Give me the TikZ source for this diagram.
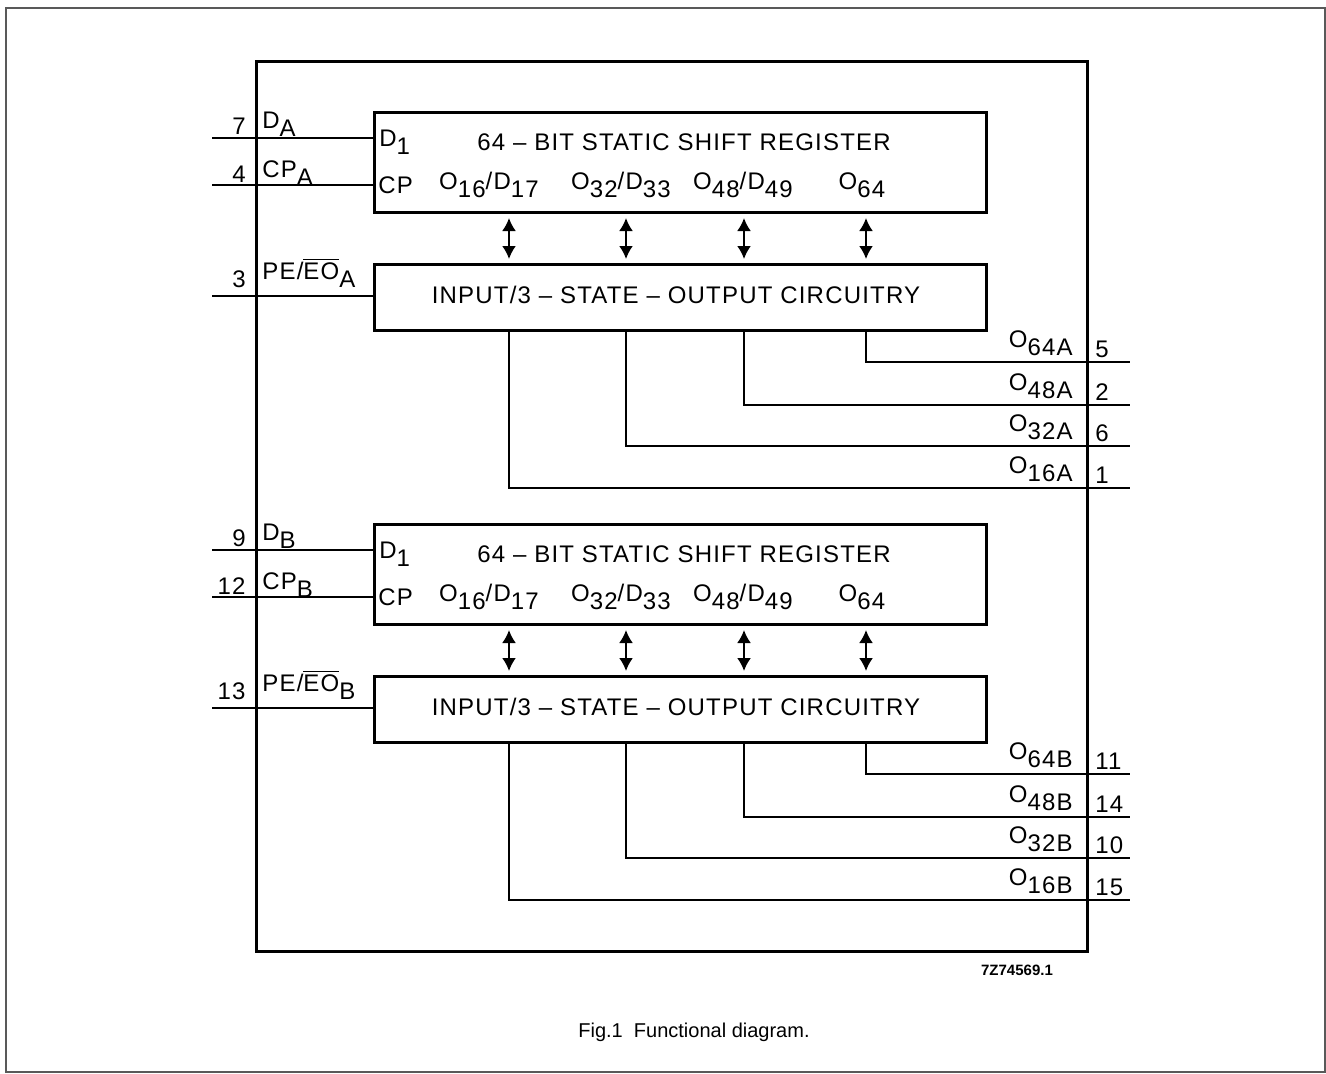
\documentclass[tikz,border=0pt]{standalone}
\usepackage{fontspec}
\setmainfont{Liberation Sans}
\newfontfamily\chipfont[LetterSpace=5]{Liberation Sans}
\usetikzlibrary{arrows.meta}
\newcommand{\cf}{\chipfont\fontsize{12pt}{14pt}\selectfont}
\newcommand{\lo}[1]{\raisebox{-0.7ex}{#1}}

\begin{document}
\begin{tikzpicture}[
    x = 0.5pt, y = -0.5pt,
    frm/.style = {line width = 0.6pt, draw = black!65},
    d0/.style = {line width = 1.5pt},
    d1/.style = {line width = 1pt},
    blk/.style = {draw, line width = 1.5pt, anchor = north west, minimum width = 306pt, inner sep = 0pt},
    io/.style = {line width = 1pt, {Latex[length=6.5pt,width=7pt]}-{Latex[length=6.5pt,width=7pt]}, shorten < = 2pt, shorten > = 2pt},
    txt/.style = {font = \cf, inner sep = 0pt, anchor = base},
    pin/.style = {font = \cf, inner sep = 0pt, anchor = base east},
    sig/.style = {font = \cf, inner sep = 0pt, anchor = base west},
]
\useasboundingbox (0,0) rectangle (1326,1073);
\draw[frm] (6,8) rectangle (1325,1072);
\draw[d0] (256,61) rectangle (1087,951);

\foreach \s/\dy/\pd/\pc/\pe/\pa/\pb/\pcc/\pdd in {A/0/7/4/3/5/2/6/1, B/412/9/12/13/11/14/10/15} {
\begin{scope}[shift = {(0,\dy)}]
\node[blk, minimum height = 50pt] (reg\s) at (373,111) {};
\node[blk, minimum height = 33pt] (cir\s) at (373,263) {};
\node[txt] (tit\s) at (684,150) {64 – BIT STATIC SHIFT REGISTER};
\node[txt] (inp\s) at (676,303) {INPUT/3 – STATE – OUTPUT CIRCUITRY};
\node[sig] (d1\s) at (379,146) {D\lo{1}};
\node[sig] (cp\s) at (378,193) {CP};
\node[txt] (q1\s) at (489,189) {O\lo{16}/D\lo{17}};
\node[txt] (q2\s) at (621,189) {O\lo{32}/D\lo{33}};
\node[txt] (q3\s) at (743,189) {O\lo{48}/D\lo{49}};
\node[txt] (q4\s) at (862,189) {O\lo{64}};

% inputs
\coordinate (ind\s) at (212,138);
\coordinate (inc\s) at (212,185);
\coordinate (ine\s) at (212,296);
\draw[d1] (ind\s) -- (ind\s -| reg\s.west);
\draw[d1] (inc\s) -- (inc\s -| reg\s.west);
\draw[d1] (ine\s) -- (ine\s -| cir\s.west);
\node[pin] (n1\s) at (246,134) {\pd};
\node[sig] (s1\s) at (262,128) {D\lo{\s}};
\node[pin] (n2\s) at (246,182) {\pc};
\node[sig] (s2\s) at (262,177) {CP\lo{\s}};
\node[pin] (n3\s) at (246,287) {\pe};
\node[sig] (s3\s) at (262,279) {PE/$\overline{\mbox{EO}}$\lo{\s}};

% outputs
\foreach \x/\y/\n/\p in {866/362/64/\pa, 744/405/48/\pb, 626/446/32/\pcc, 509/488/16/\pdd} {
  \draw[io] (reg\s.south -| \x,0) -- (cir\s.north -| \x,0);
  \coordinate (e\n\s) at (1130,\y);
  \draw[d1] (cir\s.south -| \x,0) |- (e\n\s);
  \node[pin] (o\n\s) at (1073,\y-15) {O\lo{\n\s}};
  \node[sig] (p\n\s) at (1095,\y-5) {\p};
}
\end{scope}
}

\node[font = \bfseries\fontsize{7.5pt}{9pt}\selectfont, inner sep = 0pt, anchor = base] (code) at (1017,975) {7Z74569.1};
\node[font = \fontsize{10pt}{12pt}\selectfont, inner sep = 0pt, anchor = base] (cap) at (694,1037) {Fig.1\ \ Functional diagram.};
\end{tikzpicture}
\end{document}
